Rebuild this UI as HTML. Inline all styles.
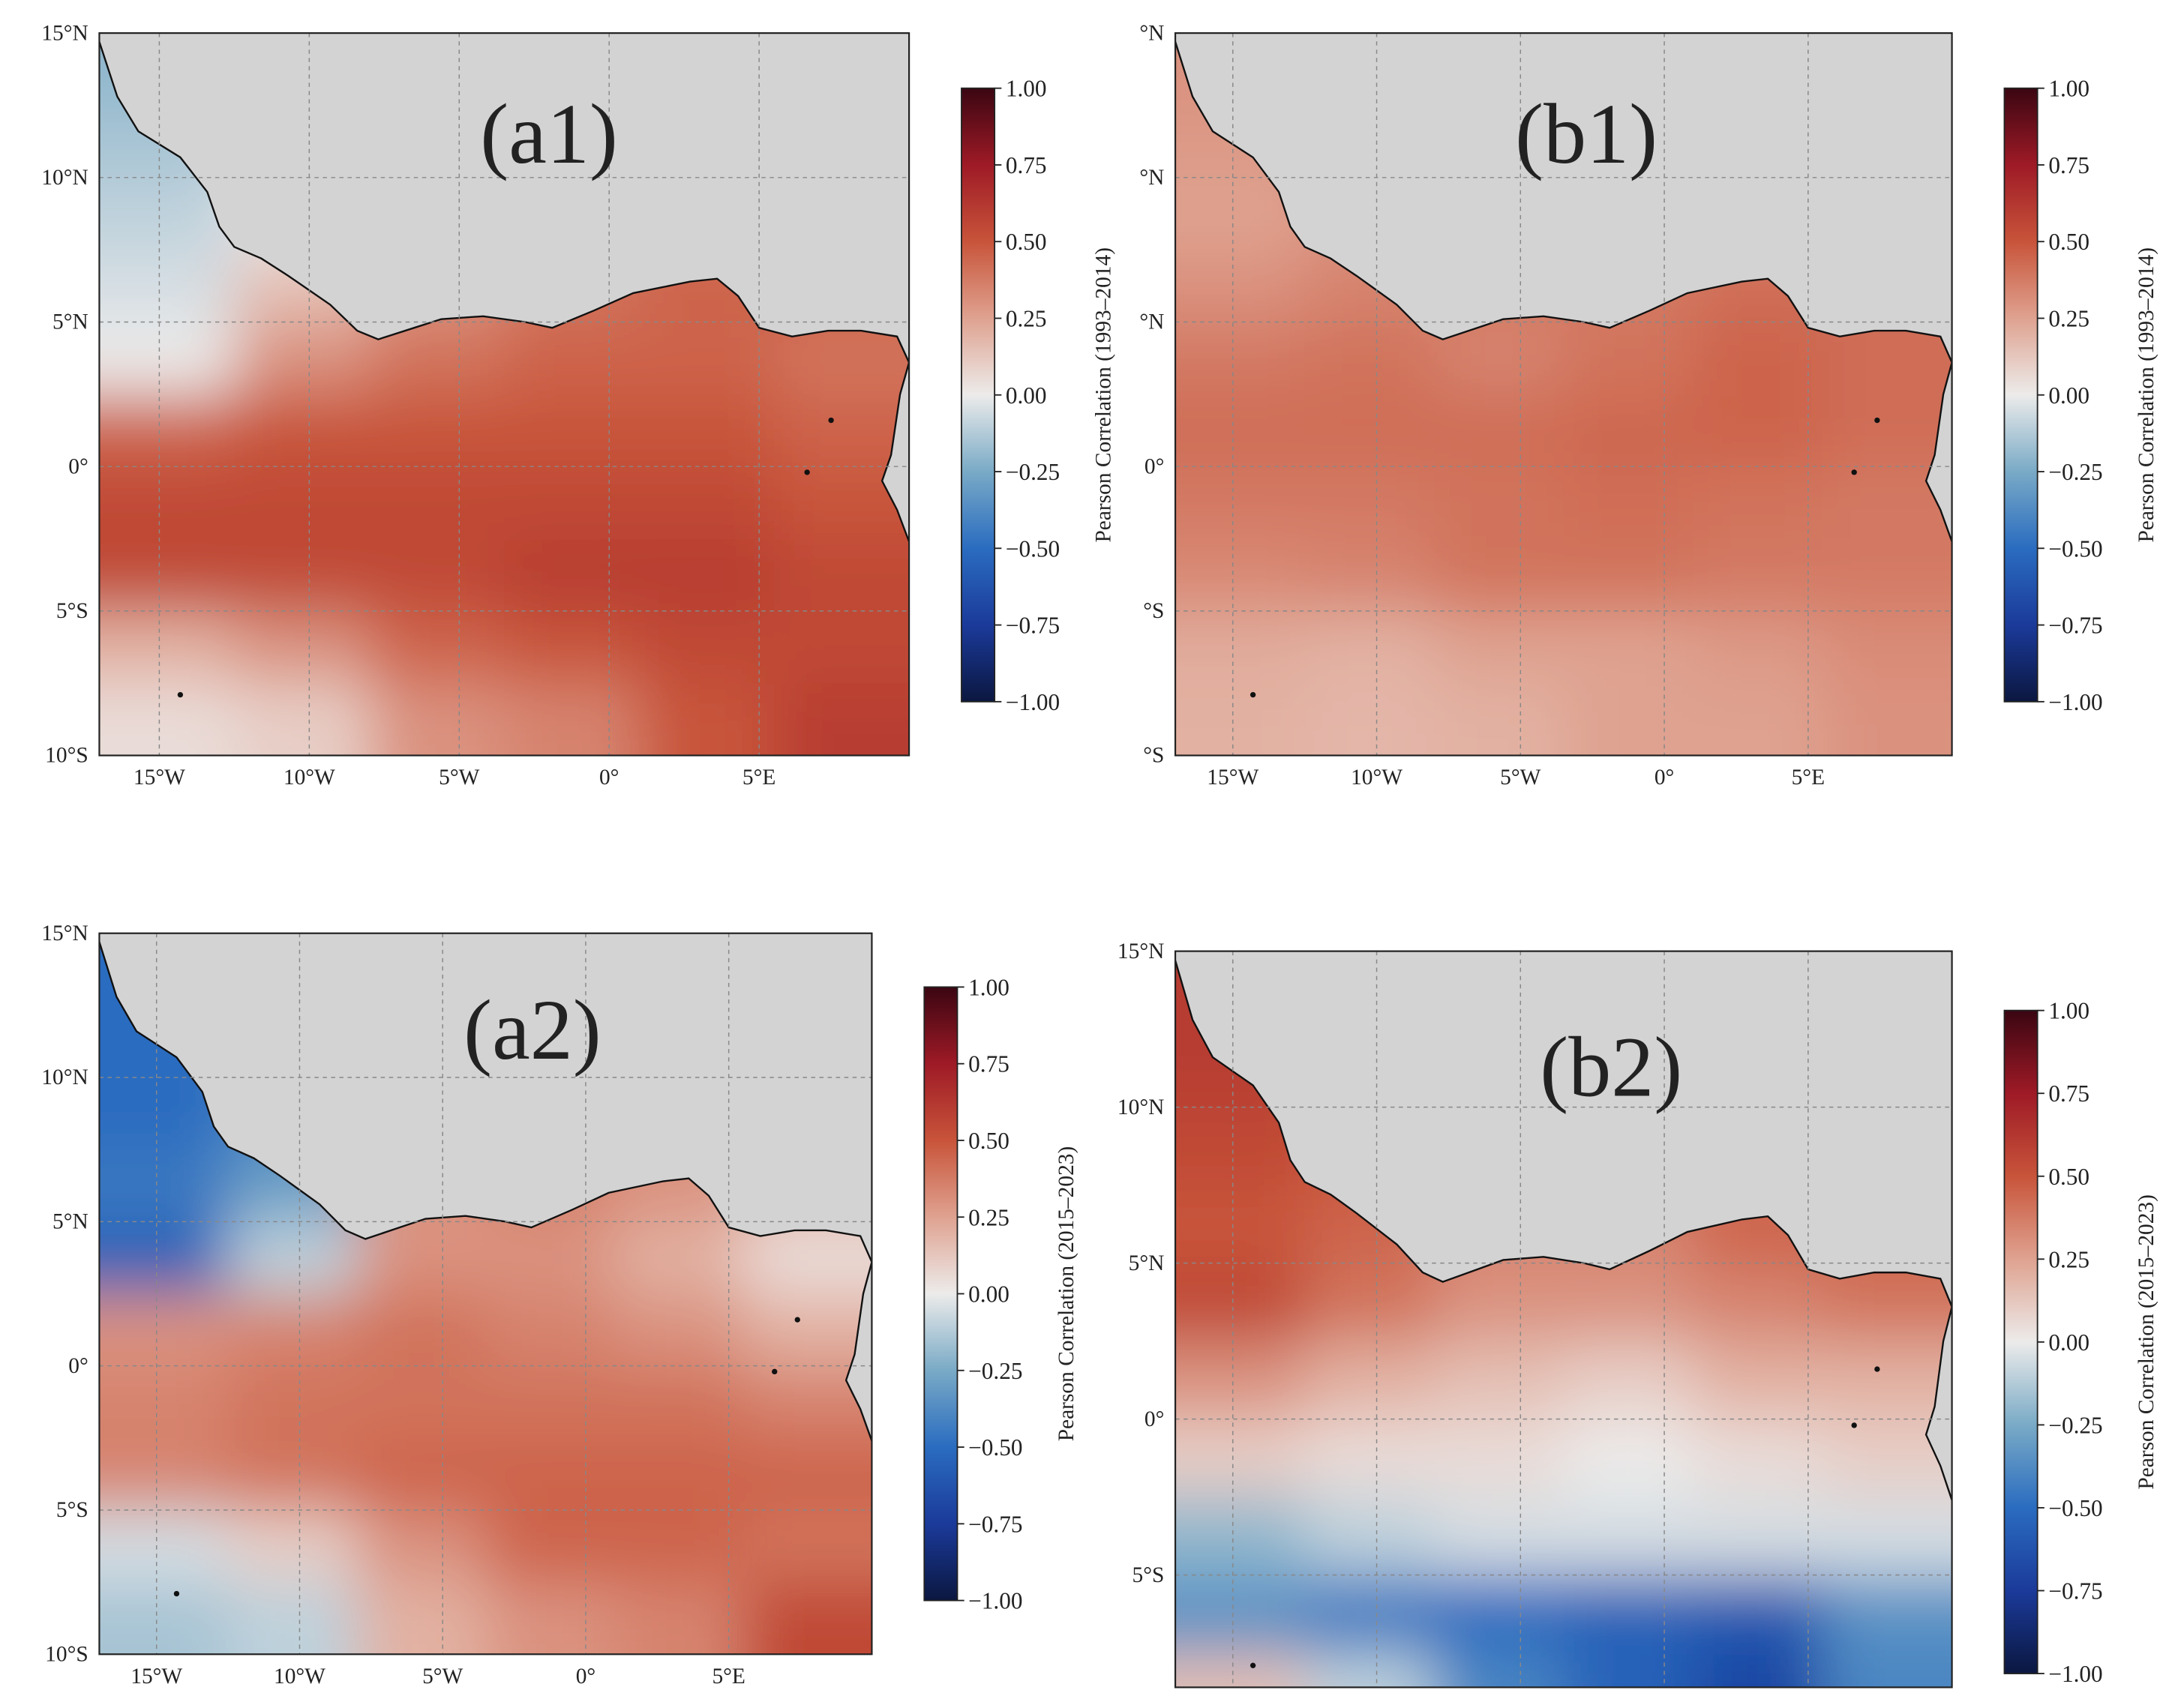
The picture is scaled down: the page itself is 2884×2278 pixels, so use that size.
<!DOCTYPE html>
<html><head><meta charset="utf-8"><style>
html,body{margin:0;padding:0;background:#fff;overflow:hidden;}
svg{display:block;}
text{font-family:"Liberation Serif",serif;fill:#222;}
</style></head><body>
<svg id="fig" width="2884" height="2278" viewBox="0 0 1568 1239" preserveAspectRatio="none" xmlns="http://www.w3.org/2000/svg">
<defs>
<linearGradient id="cmap" x1="0" y1="1" x2="0" y2="0">
<stop offset="0" stop-color="#0b1740"/><stop offset="0.125" stop-color="#1b3a9a"/>
<stop offset="0.25" stop-color="#2a6cc0"/><stop offset="0.375" stop-color="#79aac6"/>
<stop offset="0.5" stop-color="#ecebea"/><stop offset="0.625" stop-color="#dfa290"/>
<stop offset="0.75" stop-color="#c8543a"/><stop offset="0.875" stop-color="#9e1a26"/>
<stop offset="1" stop-color="#3a0612"/></linearGradient>
<filter id="blur" x="-20%" y="-20%" width="140%" height="140%"><feGaussianBlur stdDeviation="22"/></filter>
</defs>
</svg>
<script>
// grid: 10 rows (lat bands of 2.5 deg from 15N down), 6 cols (4.5 deg from 17W)
const rowLats=[13.75,11.25,8.75,6.25,3.75,1.25,-1.25,-3.75,-6.25,-8.75];
const colLons=[-14.75,-10.25,-5.75,-1.25,3.25,7.75];
const fieldA1=[[-0.2,-0.1,0.3,0.4,0.4,0.4],[-0.15,-0.05,0.3,0.4,0.4,0.4],[-0.1,0.0,0.3,0.4,0.4,0.4],[-0.05,0.15,0.3,0.4,0.45,0.45],[0.0,0.3,0.4,0.45,0.45,0.4],[0.45,0.5,0.5,0.5,0.5,0.45],[0.55,0.55,0.55,0.55,0.55,0.5],[0.55,0.55,0.55,0.6,0.6,0.55],[0.2,0.3,0.45,0.5,0.55,0.55],[0.05,0.1,0.3,0.35,0.5,0.6]];
const fieldB1=[[0.3,0.3,0.35,0.35,0.35,0.35],[0.28,0.3,0.35,0.35,0.35,0.35],[0.25,0.3,0.35,0.35,0.35,0.35],[0.3,0.35,0.38,0.38,0.42,0.42],[0.38,0.4,0.35,0.4,0.45,0.42],[0.42,0.42,0.42,0.44,0.45,0.42],[0.38,0.38,0.4,0.42,0.4,0.38],[0.33,0.35,0.4,0.4,0.38,0.38],[0.22,0.2,0.25,0.25,0.28,0.32],[0.2,0.18,0.2,0.25,0.25,0.3]];
const fieldA2=[[-0.5,-0.45,0.3,0.3,0.3,0.3],[-0.5,-0.45,0.3,0.3,0.3,0.3],[-0.5,-0.4,0.3,0.3,0.3,0.3],[-0.45,-0.3,0.3,0.35,0.3,0.2],[-0.55,-0.1,0.3,0.3,0.2,0.05],[0.3,0.35,0.4,0.35,0.3,0.2],[0.35,0.4,0.4,0.4,0.4,0.35],[0.35,0.4,0.45,0.45,0.45,0.45],[-0.05,0.1,0.3,0.45,0.45,0.4],[-0.15,-0.1,0.2,0.3,0.35,0.55]];
const fieldB2=[[0.6,0.55,0.4,0.4,0.4,0.4],[0.6,0.55,0.4,0.4,0.4,0.4],[0.55,0.5,0.4,0.4,0.4,0.4],[0.5,0.45,0.35,0.35,0.45,0.45],[0.55,0.4,0.3,0.3,0.35,0.4],[0.3,0.2,0.15,0.1,0.2,0.2],[0.1,0.05,0.05,0.0,0.05,0.1],[-0.2,-0.1,-0.05,-0.05,-0.05,-0.05],[-0.35,-0.45,-0.5,-0.55,-0.6,-0.35],[0.15,-0.1,-0.4,-0.55,-0.7,-0.4]];
const cbTicks=[1,0.75,0.5,0.25,0,-0.25,-0.5,-0.75,-1];
const cbTickLabels=["1.00","0.75","0.50","0.25","0.00","\u22120.25","\u22120.50","\u22120.75","\u22121.00"];
const lonTicks=[-15,-10,-5,0,5];
const lonLabels=["15°W","10°W","5°W","0°","5°E"];
const latTicks=[15,10,5,0,-5,-10];
const coast=[[-17,14.7],[-16.4,12.8],[-15.7,11.6],[-14.3,10.7],[-13.4,9.5],[-13,8.3],[-12.5,7.6],[-11.6,7.2],[-10.7,6.6],[-9.3,5.6],[-8.4,4.7],[-7.7,4.4],[-6.5,4.8],[-5.6,5.1],[-4.2,5.2],[-2.8,5.0],[-1.9,4.8],[-0.5,5.4],[0.8,6.0],[2.7,6.4],[3.6,6.5],[4.3,5.9],[5.0,4.8],[6.1,4.5],[7.3,4.7],[8.4,4.7],[9.6,4.5],[10,3.6],[9.7,2.5],[9.6,1.8],[9.4,0.4],[9.1,-0.5],[9.6,-1.5],[10,-2.6]];
const stops=[[-1,[11,23,64]],[-0.75,[27,58,154]],[-0.5,[42,108,192]],[-0.25,[121,170,198]],[0,[236,235,234]],[0.25,[223,162,144]],[0.5,[200,84,58]],[0.75,[158,26,38]],[1,[58,6,18]]];
function cm(v){v=Math.max(-1,Math.min(1,v));for(let i=0;i<stops.length-1;i++){const a=stops[i],b=stops[i+1];if(v<=b[0]){const t=(v-a[0])/(b[0]-a[0]);return 'rgb('+a[1].map((c,k)=>Math.round(c+(b[1][k]-c)*t)).join(',')+')';}}return 'rgb(58,6,18)';}
const NS="http://www.w3.org/2000/svg",svg=document.getElementById('fig');
function mk(tag,attrs,parent){const e=document.createElementNS(NS,tag);for(const k in attrs)e.setAttribute(k,attrs[k]);(parent||svg).appendChild(e);return e;}
const panels=[
{id:'a1',field:fieldA1,x0:72,x1:659,y0:24,y1:548,latMin:-10,cb:[697,64,509],title:'(a1)',tx:398,ty:118,lab:'Pearson Correlation (1993–2014)',latLbl:["15°N","10°N","5°N","0°","5°S","10°S"],lonLbl:true},
{id:'b1',field:fieldB1,x0:852,x1:1415,y0:24,y1:548,latMin:-10,cb:[1453,64,509],title:'(b1)',tx:1150,ty:118,lab:'Pearson Correlation (1993–2014)',latLbl:["°N","°N","°N","0°","°S","°S"],lonLbl:true},
{id:'a2',field:fieldA2,x0:72,x1:632,y0:677,y1:1200,latMin:-10,cb:[670,716,1161],title:'(a2)',tx:386,ty:768,lab:'Pearson Correlation (2015–2023)',latLbl:["15°N","10°N","5°N","0°","5°S","10°S"],lonLbl:true},
{id:'b2',field:fieldB2,x0:852,x1:1415,y0:690,y1:1224,latMin:-8.6,cb:[1453,733,1214],title:'(b2)',tx:1168,ty:795,lab:'Pearson Correlation (2015–2023)',latLbl:["15°N","10°N","5°N","0°","5°S",""],lonLbl:false}];
panels.forEach(p=>{
 const X=lon=>p.x0+(lon+17)/27*(p.x1-p.x0);
 const Y=lat=>p.y0+(15-lat)/(15-p.latMin)*(p.y1-p.y0);
 const g=mk('g',{});
 
 
 mk('clipPath',{id:'clip'+p.id},g).appendChild(mk('rect',{x:p.x0,y:p.y0,width:p.x1-p.x0,height:p.y1-p.y0},g));
 const clipG=mk('g',{'clip-path':'url(#clip'+p.id+')'},g);
 const hm=mk('g',{filter:'url(#blur)'},clipG);
 
 
 p.field.forEach((row,r)=>row.forEach((v,c)=>{
  let la0=rowLats[r]+1.25,la1=rowLats[r]-1.25,lo0=colLons[c]-2.25,lo1=colLons[c]+2.25;
  if(r===0)la0+=8;if(r===rowLats.length-1)la1-=8;if(c===0)lo0-=8;if(c===colLons.length-1)lo1+=8;
  const cell=mk('rect',{x:X(lo0),y:Y(la0),width:X(lo1)-X(lo0)+1,height:Y(la1)-Y(la0)+1,fill:cm(v)},hm);
  
  
 }));
 let d='M'+X(-17)+','+Y(15.5)+' L'+coast.map(q=>X(q[0])+','+Y(q[1])).join(' L')+' L'+X(10.5)+','+Y(-2.6)+' L'+X(10.5)+','+Y(15.5)+'Z';
 const land=mk('path',{d:d,fill:'#d3d3d3',stroke:'none'},clipG);
 
 
 const cl=mk('polyline',{points:coast.map(q=>X(q[0])+','+Y(q[1])).join(' '),fill:'none',stroke:'#111','stroke-width':1.3},clipG);
 
 
 [[6.6,-0.2],[7.4,1.6],[-14.3,-7.9]].forEach(q=>{const dot=mk('circle',{cx:X(q[0]),cy:Y(q[1]),r:2,fill:'#111'},clipG);});
 lonTicks.forEach((lo,i)=>{
  mk('line',{x1:X(lo),x2:X(lo),y1:p.y0,y2:p.y1,stroke:'#888','stroke-width':0.8,'stroke-dasharray':'3,3'},g);
  if(!p.lonLbl)return;
  const t=mk('text',{x:X(lo),y:p.y1+21,'font-size':16,'text-anchor':'middle'},g);t.textContent=lonLabels[i];
  
  
 });
 latTicks.forEach((la,i)=>{
  if(la<p.latMin-0.1)return;
  if(la<15&&la>p.latMin)mk('line',{x1:p.x0,x2:p.x1,y1:Y(la),y2:Y(la),stroke:'#888','stroke-width':0.8,'stroke-dasharray':'3,3'},g);
  const t=mk('text',{x:p.x0-8,y:Y(la)+5,'font-size':16,'text-anchor':'end'},g);t.textContent=p.latLbl[i];
  
  
 });
 mk('rect',{x:p.x0,y:p.y0,width:p.x1-p.x0,height:p.y1-p.y0,fill:'none',stroke:'#222','stroke-width':1.2},g);
 const tt=mk('text',{x:p.tx,y:p.ty,'font-size':62,'text-anchor':'middle',fill:'#111'},g);tt.textContent=p.title;
 
 
 const [cx,cy0,cy1]=p.cb,cw=24;
 const cb=mk('rect',{x:cx,y:cy0,width:cw,height:cy1-cy0,fill:'url(#cmap)',stroke:'#222','stroke-width':1},g);
 
 
 cbTicks.forEach((v,i)=>{
  const y=cy0+(1-v)/2*(cy1-cy0);
  mk('line',{x1:cx+cw,x2:cx+cw+5,y1:y,y2:y,stroke:'#222','stroke-width':1},g);
  const t=mk('text',{x:cx+cw+8,y:y+6,'font-size':17},g);t.textContent=cbTickLabels[i];
  
  
 });
 const lx=cx+cw+84,ly=(cy0+cy1)/2;
 const lt=mk('text',{x:lx,y:ly,'font-size':16,'text-anchor':'middle',transform:'rotate(-90 '+lx+' '+ly+')',fill:'#333','font-family':'DejaVu Sans, sans-serif'},g);lt.textContent=p.lab;
 
 
});
</script>
</body></html>
